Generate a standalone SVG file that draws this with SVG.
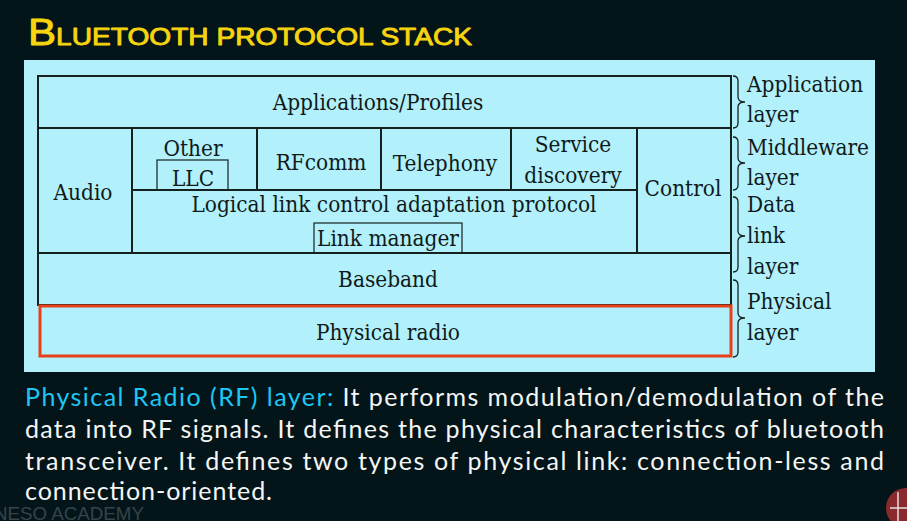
<svg xmlns="http://www.w3.org/2000/svg" width="907" height="521" viewBox="0 0 907 521">
  <style>
    .box { fill: none; stroke: #15211f; stroke-width: 2; }
    .inner { fill: none; stroke: #15211f; stroke-width: 1.2; }
    .lbl { font-family: "DejaVu Serif Condensed", "DejaVu Serif", serif; font-stretch: condensed; font-size: 22.4px; fill: #111a1a; text-anchor: middle; }
    .side { font-family: "DejaVu Serif Condensed", "DejaVu Serif", serif; font-stretch: condensed; font-size: 22.4px; fill: #111a1a; }
    .brace { fill: none; stroke: #15211f; stroke-width: 1.3; }
    .para { font-family: Lato, "Open Sans", sans-serif; font-size: 25px; fill: #f4f6f4; }
  </style>

  <!-- background and panel -->
  <rect x="0" y="0" width="907" height="521" fill="#04151a"/>
  <rect x="24" y="60" width="851" height="312" fill="#b2f1fb"/>

  <!-- heading -->
  <text x="28" y="45" textLength="444" lengthAdjust="spacingAndGlyphs" font-family="'Liberation Sans', Arial, sans-serif" fill="#f6d40e" stroke="#f6d40e" stroke-width="0.9" stroke-linejoin="round"><tspan font-size="36">B</tspan><tspan font-size="24">LUETOOTH PROTOCOL STACK</tspan></text>

  <!-- protocol stack blocks -->
  <g id="applications">
    <rect class="box" x="38" y="76" width="693" height="52"/>
    <text class="lbl" x="378" y="110">Applications/Profiles</text>
  </g>
  <g id="audio">
    <rect class="box" x="38" y="128" width="94" height="125"/>
    <text class="lbl" x="83" y="200">Audio</text>
  </g>
  <g id="other-llc">
    <rect class="box" x="132" y="128" width="125" height="62"/>
    <text class="lbl" x="193" y="156">Other</text>
    <rect class="inner" x="157" y="160" width="71" height="30"/>
    <text class="lbl" x="193" y="186">LLC</text>
  </g>
  <g id="rfcomm">
    <rect class="box" x="257" y="128" width="124" height="62"/>
    <text class="lbl" x="321" y="170">RFcomm</text>
  </g>
  <g id="telephony">
    <rect class="box" x="381" y="128" width="130" height="62"/>
    <text class="lbl" x="445" y="171">Telephony</text>
  </g>
  <g id="service-discovery">
    <rect class="box" x="511" y="128" width="126" height="62"/>
    <text class="lbl" x="573" y="152">Service</text>
    <text class="lbl" x="573" y="183">discovery</text>
  </g>
  <g id="control">
    <rect class="box" x="637" y="128" width="94" height="125"/>
    <text class="lbl" x="683" y="196">Control</text>
  </g>
  <g id="l2cap">
    <rect class="box" x="132" y="190" width="505" height="63"/>
    <text class="lbl" x="394" y="212" font-size="22">Logical link control adaptation protocol</text>
  </g>
  <g id="link-manager">
    <rect class="inner" x="314" y="223" width="148" height="30"/>
    <text class="lbl" x="388" y="246">Link manager</text>
  </g>
  <g id="baseband">
    <rect class="box" x="38" y="253" width="693" height="52"/>
    <text class="lbl" x="388" y="287">Baseband</text>
  </g>
  <g id="physical-radio">
    <rect x="40" y="306" width="691" height="50" fill="none" stroke="#e8401a" stroke-width="3"/>
    <text class="lbl" x="388" y="340">Physical radio</text>
  </g>

  <!-- layer braces -->
  <g id="braces">
    <path class="brace" d="M733,76 Q738,76 738,81 L738,97 Q738,102 745,102 Q738,102 738,107 L738,123 Q738,128 733,128"/>
    <path class="brace" d="M733,137 Q738,137 738,142 L738,158 Q738,163 745,163 Q738,163 738,168 L738,185 Q738,190 733,190"/>
    <path class="brace" d="M733,197 Q738,197 738,202 L738,231 Q738,236 745,236 Q738,236 738,241 L738,267 Q738,272 733,272"/>
    <path class="brace" d="M733,280 Q738,280 738,285 L738,313 Q738,318 745,318 Q738,318 738,323 L738,352 Q738,357 733,357"/>
  </g>

  <!-- layer names -->
  <g id="layer-names">
    <text class="side" x="747" y="92">Application</text>
    <text class="side" x="747" y="122">layer</text>
    <text class="side" x="747" y="155">Middleware</text>
    <text class="side" x="747" y="185">layer</text>
    <text class="side" x="747" y="212">Data</text>
    <text class="side" x="747" y="243">link</text>
    <text class="side" x="747" y="274">layer</text>
    <text class="side" x="747" y="309">Physical</text>
    <text class="side" x="747" y="340">layer</text>
  </g>

  <!-- description -->
  <g id="description">
    <text class="para" x="25" y="406" textLength="859" lengthAdjust="spacing"><tspan fill="#1ec6f2">Physical Radio (RF) layer:</tspan> It performs modulation/demodulation of the</text>
    <text class="para" x="25" y="438" textLength="859" lengthAdjust="spacing">data into RF signals. It defines the physical characteristics of bluetooth</text>
    <text class="para" x="25" y="470" textLength="859" lengthAdjust="spacing">transceiver. It defines two types of physical link: connection-less and</text>
    <text class="para" x="25" y="500" textLength="247" lengthAdjust="spacing">connection-oriented.</text>
  </g>

  <!-- channel watermark and badge -->
  <text x="-6" y="520" font-family="'Liberation Sans', Arial, sans-serif" font-size="19" fill="#34444a" textLength="150" lengthAdjust="spacingAndGlyphs">NESO ACADEMY</text>
  <g id="badge">
    <circle cx="906" cy="508" r="20" fill="#8a2a2e"/>
    <path d="M890,508 H907 M898,492 V521" stroke="#e8e0e0" stroke-width="1.5" fill="none"/>
  </g>
</svg>
